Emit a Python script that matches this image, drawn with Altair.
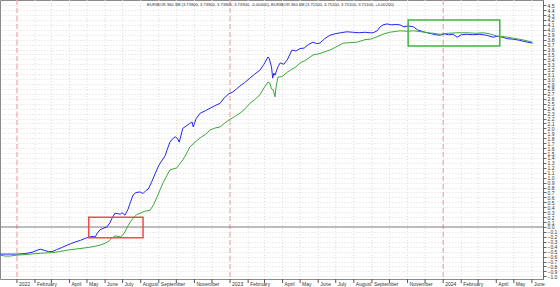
import altair as alt
import pandas as pd

# ---------------- data ----------------
dates_6m = ["2021-12-03","2021-12-15","2022-01-01","2022-01-15","2022-01-28","2022-02-05","2022-02-10","2022-02-16",
            "2022-02-24","2022-03-02","2022-03-10","2022-03-18","2022-03-28","2022-04-05","2022-04-12","2022-04-20",
            "2022-04-28","2022-05-06","2022-05-12","2022-05-15","2022-05-19","2022-05-23","2022-05-30","2022-06-04",
            "2022-06-09","2022-06-13","2022-06-18","2022-06-22","2022-06-27","2022-06-30","2022-07-05","2022-07-10",
            "2022-07-14","2022-07-19","2022-07-24","2022-07-31","2022-08-05","2022-08-10","2022-08-14","2022-08-20",
            "2022-08-26","2022-09-01","2022-09-07","2022-09-12","2022-09-15","2022-09-20","2022-09-24","2022-09-29",
            "2022-10-03","2022-10-06","2022-10-12","2022-10-18","2022-10-24","2022-10-28","2022-10-30","2022-11-04",
            "2022-11-11","2022-11-20","2022-11-28","2022-12-06","2022-12-15","2022-12-22","2022-12-30","2023-01-06",
            "2023-01-12","2023-01-18","2023-01-26","2023-02-04","2023-02-12","2023-02-21","2023-02-28","2023-03-07",
            "2023-03-09","2023-03-13","2023-03-15","2023-03-17","2023-03-19","2023-03-24","2023-03-28","2023-04-03",
            "2023-04-09","2023-04-17","2023-04-24","2023-05-01","2023-05-08","2023-05-15","2023-05-23","2023-05-29",
            "2023-06-04","2023-06-12","2023-06-21","2023-06-30","2023-07-09","2023-07-20","2023-07-31","2023-08-10",
            "2023-08-20","2023-08-29","2023-09-03","2023-09-10","2023-09-15","2023-09-20","2023-09-27","2023-10-05",
            "2023-10-12","2023-10-19","2023-10-26","2023-11-02","2023-11-11","2023-11-18","2023-11-28","2023-12-05",
            "2023-12-12","2023-12-19","2023-12-27","2024-01-03","2024-01-10","2024-01-18","2024-01-25","2024-02-01",
            "2024-02-11","2024-02-20","2024-03-04","2024-03-15","2024-03-27","2024-04-03","2024-04-12","2024-04-20",
            "2024-04-30","2024-05-10","2024-05-20","2024-06-02"]
vals_6m = [-0.55,-0.55,-0.55,-0.54,-0.51,-0.47,-0.45,-0.47,
           -0.50,-0.50,-0.46,-0.42,-0.37,-0.33,-0.30,-0.27,
           -0.23,-0.20,-0.19,-0.20,-0.12,-0.06,-0.02,0.00,
           0.08,0.18,0.28,0.27,0.26,0.29,0.24,0.35,
           0.49,0.65,0.70,0.71,0.68,0.74,0.77,0.92,
           1.09,1.25,1.36,1.45,1.56,1.72,1.78,1.83,
           1.80,1.72,2.00,2.05,2.10,2.13,2.03,2.20,
           2.31,2.36,2.41,2.46,2.51,2.62,2.70,2.74,
           2.80,2.86,2.93,3.02,3.10,3.18,3.30,3.45,
           3.42,3.25,3.02,3.12,3.08,3.25,3.33,3.30,
           3.39,3.59,3.57,3.62,3.63,3.70,3.75,3.72,
           3.73,3.82,3.89,3.92,3.94,3.96,3.95,3.94,
           3.95,3.94,3.94,3.98,4.06,4.10,4.12,4.10,
           4.11,4.10,4.06,4.08,4.06,4.00,3.96,3.94,
           3.92,3.90,3.89,3.92,3.90,3.91,3.85,3.90,
           3.91,3.90,3.91,3.89,3.85,3.87,3.85,3.82,
           3.81,3.79,3.76,3.73]

dates_3m = ["2021-12-03","2021-12-12","2021-12-20","2022-01-01","2022-01-15","2022-02-01","2022-02-15","2022-03-02",
            "2022-03-15","2022-03-28","2022-04-10","2022-04-24","2022-05-06","2022-05-15","2022-05-23","2022-06-01",
            "2022-06-08","2022-06-13","2022-06-18","2022-06-22","2022-06-27","2022-07-01","2022-07-05","2022-07-10",
            "2022-07-14","2022-07-19","2022-07-25","2022-07-31","2022-08-08","2022-08-17","2022-08-23","2022-08-29",
            "2022-09-03","2022-09-08","2022-09-15","2022-09-20","2022-09-26","2022-10-02","2022-10-08","2022-10-12",
            "2022-10-18","2022-10-24","2022-10-31","2022-11-11","2022-11-20","2022-11-28","2022-12-07","2022-12-15",
            "2022-12-22","2022-12-30","2023-01-09","2023-01-18","2023-01-27","2023-02-04","2023-02-12","2023-02-21",
            "2023-02-28","2023-03-07","2023-03-10","2023-03-13","2023-03-16","2023-03-19","2023-03-21","2023-03-24",
            "2023-03-31","2023-04-09","2023-04-17","2023-04-24","2023-05-01","2023-05-10","2023-05-23","2023-06-04",
            "2023-06-21","2023-07-01","2023-07-14","2023-07-25","2023-08-07","2023-08-12","2023-08-20","2023-08-29",
            "2023-09-08","2023-09-20","2023-10-01","2023-10-19","2023-11-01","2023-11-11","2023-11-25","2023-12-05",
            "2023-12-15","2023-12-27","2024-01-10","2024-01-25","2024-02-11","2024-02-25","2024-03-10","2024-03-20",
            "2024-04-03","2024-04-15","2024-04-30","2024-05-15","2024-06-02"]
vals_3m = [-0.57,-0.59,-0.59,-0.57,-0.56,-0.54,-0.53,-0.52,
           -0.50,-0.47,-0.45,-0.43,-0.41,-0.39,-0.37,-0.33,
           -0.28,-0.22,-0.18,-0.19,-0.20,-0.17,-0.10,0.02,
           0.10,0.18,0.25,0.28,0.32,0.34,0.45,0.61,
           0.75,0.89,1.05,1.16,1.18,1.20,1.30,1.36,
           1.48,1.62,1.70,1.81,1.88,1.97,2.01,2.03,
           2.10,2.17,2.24,2.31,2.40,2.51,2.58,2.68,
           2.82,2.94,2.92,2.80,2.78,2.64,2.85,3.04,
           3.05,3.14,3.20,3.25,3.33,3.38,3.49,3.52,
           3.59,3.65,3.73,3.74,3.75,3.77,3.80,3.81,
           3.85,3.91,3.95,3.98,3.97,3.98,3.96,3.94,
           3.93,3.91,3.93,3.94,3.94,3.93,3.94,3.92,
           3.87,3.86,3.83,3.80,3.75]

tick_dates = ["2022-01-01","2022-02-01","2022-03-01","2022-04-01","2022-05-01","2022-06-01","2022-07-01","2022-08-01",
              "2022-09-01","2022-10-01","2022-11-01","2022-12-01","2023-01-01","2023-02-01","2023-03-01","2023-04-01",
              "2023-05-01","2023-06-01","2023-07-01","2023-08-01","2023-09-01","2023-10-01","2023-11-01","2023-12-01",
              "2024-01-01","2024-02-01","2024-03-01","2024-04-01","2024-05-01","2024-06-01"]
tick_labels = ["2022","February","","April","May","June","July","August",
               "September","","November","","2023","February","","April",
               "May","June","July","August","September","","November","",
               "2024","February","","April","May","June"]
year_starts = ["2022-01-01","2023-01-01","2024-01-01"]
y_ticks = [round(-1.0 + 0.1 * i, 1) for i in range(56)]

title_text = ("EURIBOR 360 3M (3.73900, 3.73900, 3.73900, 3.73900, -0.00400), "
              "EURIBOR 360 6M (3.75100, 3.75100, 3.75100, 3.75100, +0.00200)")

box_x = ["2022-05-04", "2023-11-02"]
box_x2 = ["2022-08-05", "2024-04-07"]
box_y = [-0.22, 3.67]
box_y2 = [0.20, 4.20]
box_color = ["red", "green"]

# ---------------- chart ----------------
FONT = "Liberation Sans"
xscale = alt.Scale(domain=[alt.DateTime(year=2021, month=12, date=3),
                           alt.DateTime(year=2024, month=6, date=20)])
yscale = alt.Scale(domain=[-1.055, 4.605], nice=False, zero=False)
yaxis = alt.Axis(orient="right", values=y_ticks, format=".1f", title=None,
                 labelFontSize=5, labelFont=FONT, labelColor="#333333",
                 labelOverlap=False, labelFlush=False, labelPadding=1,
                 tickSize=3, tickColor="#666666", domainColor="#666666",
                 grid=True, gridColor="#dcdcdc", gridDash=[1, 2])

ticks_df = pd.DataFrame({"date": tick_dates, "label": tick_labels})
years_df = pd.DataFrame({"date": year_starts})
lines_df = pd.concat([
    pd.DataFrame({"date": dates_6m, "value": vals_6m, "series": "6M"}),
    pd.DataFrame({"date": dates_3m, "value": vals_3m, "series": "3M"}),
])
boxes_df = pd.DataFrame({"x": box_x, "x2": box_x2, "y": box_y, "y2": box_y2, "c": box_color})

month_grid = alt.Chart(ticks_df).mark_rule(color="#dcdcdc", strokeDash=[1, 2], strokeWidth=1).encode(
    x=alt.X("date:T", scale=xscale, axis=None))
year_lines = alt.Chart(years_df).mark_rule(color="#f29a9a", strokeDash=[5, 3], strokeWidth=1).encode(
    x=alt.X("date:T", scale=xscale, axis=None))
zero_line = alt.Chart(pd.DataFrame({"v": [0.0]})).mark_rule(color="#808080", strokeWidth=1).encode(
    y=alt.Y("v:Q", scale=yscale, axis=yaxis))
lines = alt.Chart(lines_df).mark_line(strokeWidth=1).encode(
    x=alt.X("date:T", scale=xscale, axis=None),
    y=alt.Y("value:Q", scale=yscale, axis=yaxis),
    color=alt.Color("series:N", scale=alt.Scale(domain=["6M", "3M"], range=["#2424f4", "#38aa38"]), legend=None),
)
boxes = alt.Chart(boxes_df).mark_rect(fillOpacity=0, strokeWidth=1.5).encode(
    x=alt.X("x:T", scale=xscale, axis=None), x2="x2:T",
    y=alt.Y("y:Q", scale=yscale, axis=yaxis), y2="y2:Q",
    stroke=alt.Stroke("c:N", scale=alt.Scale(domain=["red", "green"], range=["#f04a4a", "#3cb83c"]), legend=None),
)
month_ticks = alt.Chart(ticks_df).mark_rule(color="#555555", strokeWidth=1).encode(
    x=alt.X("date:T", scale=xscale, axis=None), y=alt.value(279), y2=alt.value(283))
month_labels = alt.Chart(ticks_df).mark_text(align="left", baseline="middle", dx=2, fontSize=5,
                                             font=FONT, color="#333333").encode(
    x=alt.X("date:T", scale=xscale, axis=None), y=alt.value(283.5), text="label:N")
title = alt.Chart(pd.DataFrame({"t": [title_text]})).mark_text(
    align="left", baseline="middle", fontSize=4.1, font=FONT, color="#333333").encode(
    x=alt.value(147), y=alt.value(5), text="t:N")

chart = alt.layer(month_grid, year_lines, zero_line, lines, boxes, month_ticks, month_labels, title).properties(
    width=543, height=279, autosize="none",
    padding={"left": 0, "top": 0, "right": 17, "bottom": 8},
    background="white",
).configure_view(stroke="#8a8a8a", strokeWidth=1)

chart.save("out.html", embed_options={"renderer": "svg", "actions": False})
